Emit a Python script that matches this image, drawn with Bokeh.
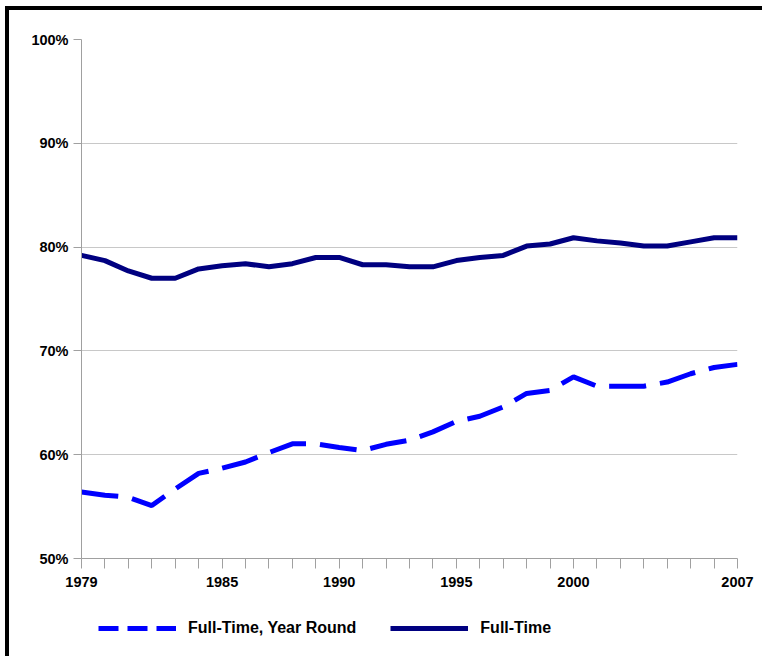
from bokeh.plotting import figure
from bokeh.layouts import column
from bokeh.models import FixedTicker, Legend, LegendItem, ColumnDataSource
from bokeh.embed import file_html
from bokeh.resources import INLINE

years = list(range(1979, 2008))
full_time = [79.2, 78.7, 77.7, 77.0, 77.0, 77.9, 78.2, 78.4, 78.1, 78.4,
             79.0, 79.0, 78.3, 78.3, 78.1, 78.1, 78.7, 79.0, 79.2, 80.1,
             80.3, 80.9, 80.6, 80.4, 80.1, 80.1, 80.5, 80.9, 80.9]
full_time_year_round = [56.4, 56.1, 55.9, 55.1, 56.7, 58.2, 58.7, 59.3, 60.2, 61.05,
                        61.05, 60.7, 60.4, 61.0, 61.4, 62.2, 63.2, 63.7, 64.6, 65.9,
                        66.2, 67.5, 66.6, 66.6, 66.6, 67.0, 67.8, 68.4, 68.7]
y_ticks = [50, 60, 70, 80, 90, 100]
x_labeled = [1979, 1985, 1990, 1995, 2000, 2007]
series_names = ["Full-Time, Year Round", "Full-Time"]

src = ColumnDataSource(dict(year=years, ft=full_time, ftyr=full_time_year_round))

p = figure(width=753, height=590, x_range=(1979, 2007), y_range=(50, 100),
           output_backend="svg", toolbar_location=None,
           min_border_left=72, min_border_top=29, min_border_right=25, min_border_bottom=42)
p.outline_line_color = None
p.background_fill_color = "white"
p.border_fill_color = "white"

# grids
p.xgrid.grid_line_color = None
p.ygrid.ticker = FixedTicker(ticks=y_ticks)
p.ygrid.grid_line_color = "#c8c8c8"
p.ygrid.grid_line_width = 1

# axes
font = "Liberation Sans"
p.yaxis.ticker = FixedTicker(ticks=y_ticks)
p.yaxis.major_label_overrides = {v: f"{v}%" for v in y_ticks}
p.yaxis.minor_tick_line_color = None
p.yaxis.major_tick_in = 0
p.yaxis.major_tick_out = 8
p.yaxis.major_label_standoff = 5
p.xaxis.ticker = FixedTicker(ticks=years)
p.xaxis.major_label_overrides = {y: (str(y) if y in x_labeled else "") for y in years}
p.xaxis.minor_tick_line_color = None
p.xaxis.major_tick_in = 0
p.xaxis.major_tick_out = 10
p.xaxis.major_label_standoff = 8
for ax in (p.xaxis, p.yaxis):
    ax.axis_line_color = "#a0a0a0"
    ax.major_tick_line_color = "#a0a0a0"
    ax.major_label_text_font = font
    ax.major_label_text_font_style = "bold"
    ax.major_label_text_font_size = "14.5px"
    ax.major_label_text_color = "black"

# lines
p.line("year", "ftyr", source=src, line_color="#0000ff", line_width=5, line_dash="37 14")
p.line("year", "ft", source=src, line_color="#000080", line_width=5)

# legend strip (separate figure below the chart; its frame aligns with the chart's)
lg = figure(width=753, height=56, x_range=(0, 1), y_range=(0, 1),
            output_backend="svg", toolbar_location=None,
            min_border=0, min_border_left=0, min_border_right=0,
            min_border_top=0, min_border_bottom=0)
lg.axis.visible = False
lg.grid.visible = False
lg.outline_line_color = None
lg.background_fill_color = "white"
lg.border_fill_color = "white"
r1 = lg.line("year", "ftyr", source=src, line_color="#0000ff", line_width=5, line_dash="20 9")
r2 = lg.line("year", "ft", source=src, line_color="#000080", line_width=5)
legend = Legend(items=[LegendItem(label=series_names[0], renderers=[r1]),
                       LegendItem(label=series_names[1], renderers=[r2])],
                orientation="horizontal", location=(17, 18),
                glyph_width=78, glyph_height=20, label_height=20,
                label_standoff=12, spacing=34,
                padding=0, margin=0, border_line_color=None,
                background_fill_alpha=0,
                label_text_font=font, label_text_font_style="bold",
                label_text_font_size="16px", label_text_color="black")
lg.add_layout(legend, "center")

layout = column(p, lg, spacing=0)
layout.margin = (6, 0, 0, 5)
layout.styles = {"border-left": "4px solid black", "border-top": "4px solid black"}

open("out.html", "w").write(file_html(layout, INLINE))
